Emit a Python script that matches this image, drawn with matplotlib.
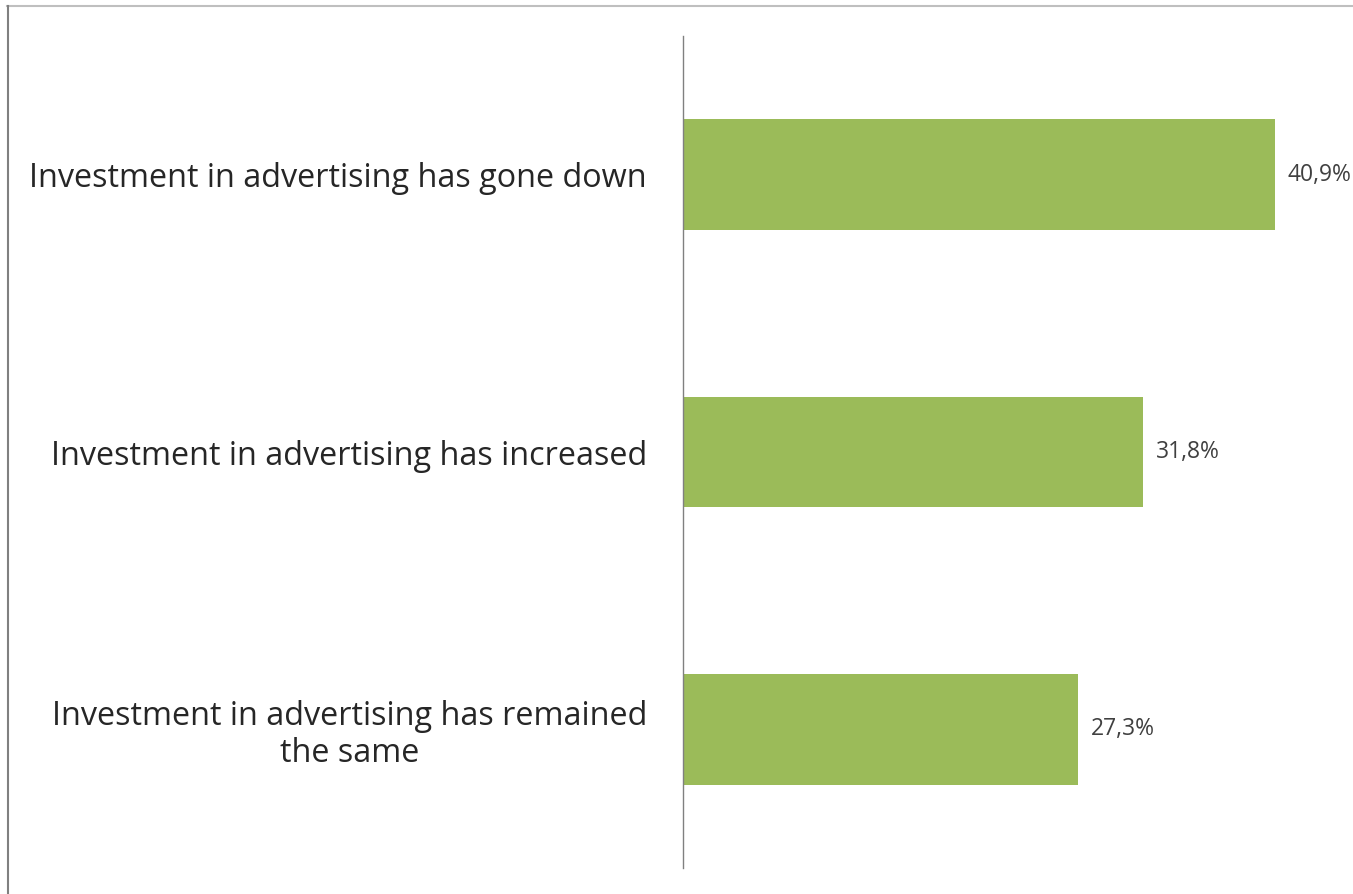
import matplotlib.pyplot as plt
from matplotlib.lines import Line2D

categories = [
    "Investment in advertising has gone down",
    "Investment in advertising has increased",
    "Investment in advertising has remained\nthe same",
]
values = [40.9, 31.8, 27.3]
value_labels = ["40,9%", "31,8%", "27,3%"]

plt.rcParams['font.family'] = ['Open Sans', 'DejaVu Sans']

fig = plt.figure(figsize=(13.53, 8.94), dpi=100)
ax = fig.add_axes([0.5048, 0.0291, 0.4922, 0.9306])

pos = list(range(len(categories)))
ax.barh(pos, values, height=0.4, color="#9bbb59")
ax.set_ylim(2.5, -0.5)
ax.set_xlim(0, 46)

for y, v, t in zip(pos, values, value_labels):
    ax.annotate(t, (v, y), xytext=(9, 0), textcoords="offset points",
                va="center", ha="left", fontsize=16.5, color="#404040",
                annotation_clip=False)

ax.set_yticks(pos)
ax.set_yticklabels(categories, fontsize=23.3, color="#262626")
for lbl in ax.get_yticklabels():
    lbl.set_multialignment("center")
    lbl.set_linespacing(1.15)
ax.tick_params(axis="y", length=0, pad=26)
ax.set_xticks([])
for s in ["top", "right", "bottom"]:
    ax.spines[s].set_visible(False)
ax.spines["left"].set_color("#808080")
ax.spines["left"].set_linewidth(1)

# outer frame edges
fig.add_artist(Line2D([7 / 1353, 1], [1 - 5.5 / 894, 1 - 5.5 / 894],
                      color="#bfbfbf", lw=1.5, transform=fig.transFigure))
fig.add_artist(Line2D([7.5 / 1353, 7.5 / 1353], [0, 1 - 5.5 / 894],
                      color="#808080", lw=1.5, transform=fig.transFigure))

fig.savefig("out.png", dpi=100)
